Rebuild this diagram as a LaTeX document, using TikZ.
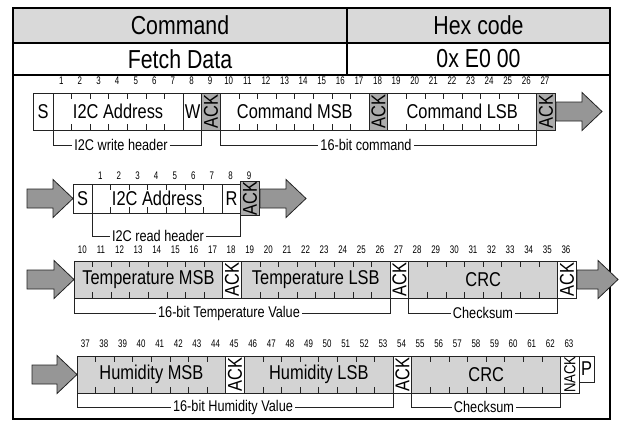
\documentclass[tikz,border=0pt]{standalone}
\usepackage{fontspec}
\setmainfont{Liberation Sans}[FakeStretch=0.82]
\newfontfamily\numfont{Liberation Sans}[FakeStretch=0.72]
\usetikzlibrary{positioning}
\definecolor{headgray}{RGB}{217,217,217}
\definecolor{ackgray}{RGB}{172,172,172}
\definecolor{datagray}{RGB}{211,211,211}
\definecolor{arrowgray}{RGB}{150,150,150}
\definecolor{edgegray}{RGB}{35,35,35}
\newcommand\bitw{18.6}

\begin{document}
\begin{tikzpicture}[x=1pt,y=-1pt,
    field/.style={draw=edgegray, line width=0.8pt, inner sep=0pt, outer sep=0pt,
        minimum height=37, font=\fontsize{20}{22}\selectfont},
    datafield/.style={field, fill=datagray},
    ackbox/.style={field, fill=ackgray, minimum width=\bitw},
    ackwhite/.style={field, minimum width=\bitw},
    bitnum/.style={font=\numfont\fontsize{11}{11}\selectfont, inner sep=0pt},
    brlabel/.style={font=\fontsize{15.5}{16}\selectfont, inner xsep=2pt, inner ysep=0pt},
    bracket/.style={draw=edgegray, line width=0.7pt},
    blockarrow/.style={draw=edgegray, fill=arrowgray, line width=0.8pt, line join=miter},
    headtext/.style={font=\fontsize{26}{28}\selectfont, inner sep=0pt}]
    \useasboundingbox (0,0) rectangle (620,421);

    % Table
    \fill[headgray] (13,8) rectangle (610,43);
    \draw[line width=1.6pt] (13,43) -- (610,43);
    \draw[line width=1.6pt] (13,75) -- (610,75);
    \draw[line width=1.6pt] (347,8) -- (347,75);
    \draw[line width=2.4pt] (13,8) rectangle (610,419);
    \node[headtext] (cmdhead) at (180,25.5) {Command};
    \node[headtext] (hexhead) at (478.5,25.5) {Hex code};
    \node[headtext] (cmdname) at (180,59) {Fetch Data};
    \node[headtext] (hexval) at (478.5,59) {0x E0 00};

    % Write header and command
    \node[field, anchor=north west, minimum width=20] (s1) at (33,93) {S};
    \node[field, minimum width=7*\bitw, right=0pt of s1] (addr1) {I2C Address};
    \node[field, minimum width=\bitw, right=0pt of addr1] (w1) {W};
    \node[ackbox, right=0pt of w1] (ack1) {\rotatebox{90}{ACK}};
    \node[field, minimum width=8*\bitw, right=0pt of ack1] (cmdmsb) {Command MSB};
    \node[ackbox, right=0pt of cmdmsb] (ack2) {\rotatebox{90}{ACK}};
    \node[field, minimum width=8*\bitw, right=0pt of ack2] (cmdlsb) {Command LSB};
    \node[ackbox, right=0pt of cmdlsb] (ack3) {\rotatebox{90}{ACK}};
    \foreach \b in {1,...,27}
        \node[bitnum] (bitw\b) at ({53+(\b-0.5)*\bitw-1},81) {\b};

    \node[brlabel] (wlbl) at (121,145) {I2C write header};
    \draw[bracket] (addr1.south west) |- (wlbl.west);
    \draw[bracket] (wlbl.east) -| (w1.south east);
    \node[brlabel] (cmdlbl) at (366,145) {16-bit command};
    \draw[bracket] (cmdmsb.south west) |- (cmdlbl.west);
    \draw[bracket] (cmdlbl.east) -| (cmdlsb.south east);

    % Read header
    \node[field, anchor=north west, minimum width=19, minimum height=29] (s2) at (73,184) {S};
    \node[field, minimum width=7*\bitw, minimum height=29, right=0pt of s2] (addr2) {I2C Address};
    \node[field, minimum width=\bitw, minimum height=29, right=0pt of addr2] (r2) {R};
    \node[ackbox, minimum height=29, right=0pt of r2] (ack4) {\rotatebox{90}{ACK}};
    \foreach \b in {1,...,9}
        \node[bitnum] (bitr\b) at ({92+(\b-0.5)*\bitw-1},176) {\b};

    \node[brlabel] (rlbl) at (158,236) {I2C read header};
    \draw[bracket] (addr2.south west) |- (rlbl.west);
    \draw[bracket] (rlbl.east) -| (r2.south east);

    % Temperature
    \node[datafield, anchor=north west, minimum width=8*\bitw] (tmsb) at (74,261) {Temperature MSB};
    \node[ackwhite, right=0pt of tmsb] (ack5) {\rotatebox{90}{ACK}};
    \node[datafield, minimum width=8*\bitw, right=0pt of ack5] (tlsb) {Temperature LSB};
    \node[ackwhite, right=0pt of tlsb] (ack6) {\rotatebox{90}{ACK}};
    \node[datafield, minimum width=8*\bitw, right=0pt of ack6] (crc1) {CRC};
    \node[ackwhite, right=0pt of crc1] (ack7) {\rotatebox{90}{ACK}};
    \foreach \b in {10,...,36}
        \node[bitnum] (bitt\b) at ({74+(\b-9.5)*\bitw-1},250) {\b};

    \node[brlabel] (tlbl) at (229,313) {16-bit Temperature Value};
    \draw[bracket] (tmsb.south west) |- (tlbl.west);
    \draw[bracket] (tlbl.east) -| (tlsb.south east);
    \node[brlabel] (tcrclbl) at (483,313) {Checksum};
    \draw[bracket] (crc1.south west) |- (tcrclbl.west);
    \draw[bracket] (tcrclbl.east) -| (crc1.south east);

    % Humidity
    \node[datafield, anchor=north west, minimum width=8*\bitw] (hmsb) at (77,356) {Humidity MSB};
    \node[ackwhite, right=0pt of hmsb] (ack8) {\rotatebox{90}{ACK}};
    \node[datafield, minimum width=8*\bitw, right=0pt of ack8] (hlsb) {Humidity LSB};
    \node[ackwhite, right=0pt of hlsb] (ack9) {\rotatebox{90}{ACK}};
    \node[datafield, minimum width=8*\bitw, right=0pt of ack9] (crc2) {CRC};
    \node[ackwhite, right=0pt of crc2] (nack) {\rotatebox{90}{\fontsize{16}{16}\selectfont NACK}};
    \node[field, anchor=north west, minimum width=15, minimum height=26] (p4) at (nack.north east) {P};
    \foreach \b in {37,...,63}
        \node[bitnum] (bith\b) at ({77+(\b-36.5)*\bitw-1},344) {\b};

    \node[brlabel] (hlbl) at (233,407) {16-bit Humidity Value};
    \draw[bracket] (hmsb.south west) |- (hlbl.west);
    \draw[bracket] (hlbl.east) -| (hlsb.south east);
    \node[brlabel] (hcrclbl) at (484,407) {Checksum};
    \draw[bracket] (crc2.south west) |- (hcrclbl.west);
    \draw[bracket] (hcrclbl.east) -| (crc2.south east);

    % Bit ticks
    \foreach \n/\m in {addr1/6, cmdmsb/7, cmdlsb/7, addr2/6, tmsb/7, tlsb/7, crc1/7, hmsb/7, hlsb/7, crc2/7}
        \foreach \i in {1,...,\m} {
            \draw[edgegray, line width=0.7pt] ([xshift=\i*\bitw]\n.north west) -- ++(0,6);
            \draw[edgegray, line width=0.7pt] ([xshift=\i*\bitw]\n.south west) -- ++(0,-6);
        }

    % Block arrows
    \foreach \ax/\ay/\al in {556/111.5/46, 27/198.5/46, 260/198.5/46, 27/279.5/47, 577/279.5/41, 32/374.5/45}
        \draw[blockarrow] (\ax,\ay-9.5) -- (\ax+\al-20,\ay-9.5) -- (\ax+\al-20,\ay-19) -- (\ax+\al,\ay)
            -- (\ax+\al-20,\ay+19) -- (\ax+\al-20,\ay+9.5) -- (\ax,\ay+9.5) -- cycle;
\end{tikzpicture}
\end{document}
